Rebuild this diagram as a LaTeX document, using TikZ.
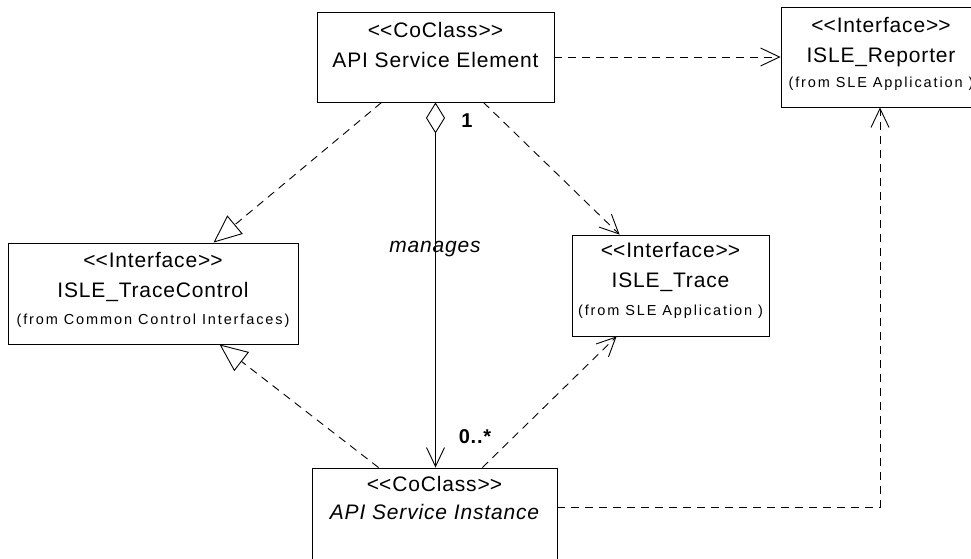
\documentclass[tikz,border=0pt]{standalone}
\usepackage{fontspec}
\usepackage{tikz}
\usetikzlibrary{arrows.meta,positioning}
\newfontfamily\umlfont{Liberation Sans}[LetterSpace=4]
\newfontfamily\umlsmallfont{Liberation Sans}[LetterSpace=13]
\newcommand\umlstereo[1]{<\kern0pt<#1>\kern0pt>}

\begin{document}
\begin{tikzpicture}[x=1pt, y=-1pt,
  class_box/.style={draw, line width=0.9pt, inner sep=0pt},
  main_text/.style={anchor=base, inner sep=0pt, font=\umlfont\fontsize{21}{25}\selectfont},
  from_text/.style={anchor=base, inner sep=0pt, font=\umlsmallfont\fontsize{14.5}{17}\selectfont},
  mult_text/.style={anchor=base, inner sep=0pt, font=\umlfont\bfseries\fontsize{20}{24}\selectfont},
  dep_line/.style={draw, line width=0.9pt, dash pattern=on 8pt off 6pt,
    -{Straight Barb[length=19pt, width=18pt]}},
  real_line/.style={draw, line width=0.9pt, dash pattern=on 8pt off 6pt,
    -{Triangle[open, length=28pt, width=24pt]}},
  agg_line/.style={draw, line width=0.9pt,
    {Diamond[open, length=31pt, width=19pt]}-{Straight Barb[length=19pt, width=18pt]}},
]
\useasboundingbox (0,0) rectangle (971,559);

% classes and interfaces
\node[class_box, minimum width=237pt, minimum height=90pt] (ase) at (435.5,57) {};
\node[main_text] (ase-st) at ([yshift=-26pt]ase.north) {\umlstereo{CoClass}};
\node[main_text] (ase-nm) at ([yshift=-56pt]ase.north) {API Service Element};

\node[class_box, minimum width=200pt, minimum height=100pt] (rep) at (881,57) {};
\node[main_text] (rep-st) at ([yshift=-26pt]rep.north) {\umlstereo{Interface}};
\node[main_text] (rep-nm) at ([yshift=-56pt]rep.north) {ISLE\_Reporter};
\node[from_text] (rep-fr) at ([yshift=-81pt]rep.north) {(from SLE Application )};

\node[class_box, minimum width=290pt, minimum height=101pt] (tc) at (153,293.5) {};
\node[main_text] (tc-st) at ([yshift=-25pt]tc.north) {\umlstereo{Interface}};
\node[main_text] (tc-nm) at ([yshift=-55pt]tc.north) {ISLE\_TraceControl};
\node[from_text] (tc-fr) at ([yshift=-82pt]tc.north) {(from Common Control Interfaces)};

\node[class_box, minimum width=197pt, minimum height=101pt] (trace) at (670.5,285.5) {};
\node[main_text] (trace-st) at ([yshift=-23pt]trace.north) {\umlstereo{Interface}};
\node[main_text] (trace-nm) at ([yshift=-53pt]trace.north) {ISLE\_Trace};
\node[from_text] (trace-fr) at ([yshift=-81pt]trace.north) {(from SLE Application )};

\node[class_box, minimum width=245pt, minimum height=94pt] (inst) at (434.5,515) {};
\node[main_text] (inst-st) at ([yshift=-24pt]inst.north) {\umlstereo{CoClass}};
\node[main_text] (inst-nm) at ([yshift=-52pt]inst.north) {\itshape API Service Instance};

% association labels
\node[main_text] (mgs) at (435,252) {\itshape manages};
\node[mult_text] (mult-one) at (467,128) {1};
\node[mult_text] (mult-many) at (475,443) {0..*};

% connectors
\coordinate (bend) at (880,507);
\path[dep_line] (ase.east) -- (rep.west |- ase.east);
\path[real_line] ([xshift=65pt]ase.south west) -- ([xshift=206pt]tc.north west);
\path[dep_line] ([xshift=-71pt]ase.south east) -- ([xshift=48pt]trace.north west);
\path[agg_line] (ase.south) -- (ase.south |- inst.north);
\path[real_line] ([xshift=67pt]inst.north west) -- ([xshift=212pt]tc.south west);
\path[dep_line] ([xshift=-75pt]inst.north east) -- ([xshift=45pt]trace.south west);
\path[dep_line] (inst.east |- bend) -- (bend) -- (rep.south -| bend);
\end{tikzpicture}
\end{document}
